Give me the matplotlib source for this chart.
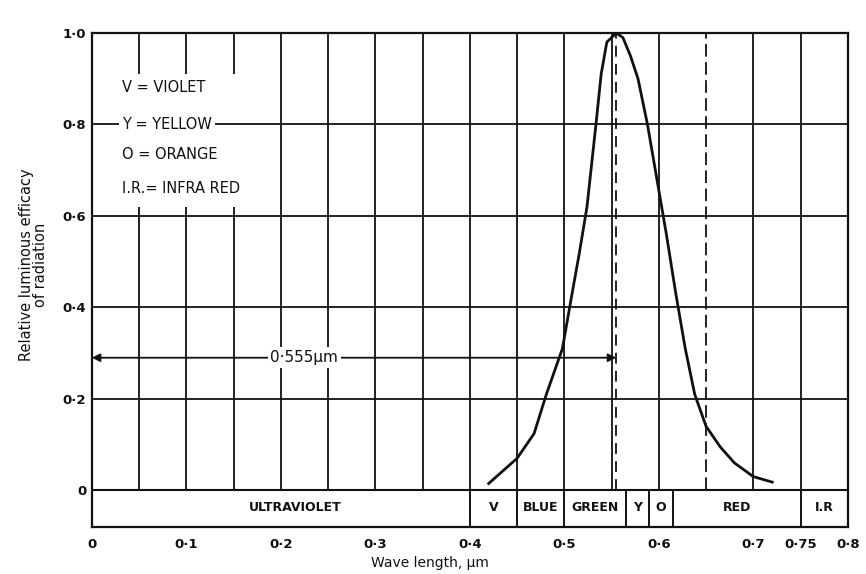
import matplotlib
matplotlib.use("Agg")
import matplotlib.pyplot as plt
from matplotlib.patches import Rectangle

# ---- data ----
wavelength = [0.420, 0.450, 0.468, 0.481, 0.498, 0.507, 0.516, 0.524, 0.534, 0.539,
              0.545, 0.555, 0.562, 0.570, 0.578, 0.588, 0.598, 0.608, 0.618, 0.628,
              0.638, 0.650, 0.665, 0.680, 0.700, 0.720]
efficacy = [0.015, 0.070, 0.124, 0.210, 0.310, 0.416, 0.520, 0.620, 0.810, 0.910,
            0.980, 1.000, 0.990, 0.950, 0.900, 0.800, 0.680, 0.560, 0.430, 0.310,
            0.210, 0.140, 0.095, 0.060, 0.030, 0.018]

peak_wavelength = 0.555
peak_label = "0·555µm"
arrow_level = 0.29

band_edges = [0.0, 0.40, 0.45, 0.50, 0.565, 0.59, 0.615, 0.75, 0.80]
band_names = ["ULTRAVIOLET", "V", "BLUE", "GREEN", "Y", "O", "RED", "I.R"]

x_ticks = [0.0, 0.1, 0.2, 0.3, 0.4, 0.5, 0.6, 0.7, 0.75, 0.8]
x_tick_labels = ["0", "0·1", "0·2", "0·3", "0·4", "0·5", "0·6", "0·7", "0·75", "0·8"]
y_ticks = [0.0, 0.2, 0.4, 0.6, 0.8, 1.0]
y_tick_labels = ["0", "0·2", "0·4", "0·6", "0·8", "1·0"]

legend_lines = ["V = VIOLET", "Y = YELLOW", "O = ORANGE", "I.R.= INFRA RED"]
legend_levels = [0.88, 0.80, 0.735, 0.66]

v_grid = [0.05, 0.10, 0.15, 0.20, 0.25, 0.30, 0.35, 0.40, 0.45, 0.50, 0.55, 0.60,
          0.65, 0.70, 0.75]
h_grid = [0.2, 0.4, 0.6, 0.8]

# ---- figure ----
plt.rcParams["font.family"] = ["DejaVu Sans"]
fig = plt.figure(figsize=(8.66, 5.74), dpi=100)
ax = fig.add_axes([0.106, 0.082, 0.873, 0.8605])
ax.set_xlim(0, 0.8)
ax.set_ylim(-0.08, 1.0)

ink = "#111111"
for s in ax.spines.values():
    s.set_linewidth(1.6)
    s.set_color(ink)

# vertical grid lines (from band top to 1.0)
for x in v_grid:
    ls = (0, (7, 3)) if abs(x - 0.65) < 1e-9 else "-"
    ax.plot([x, x], [0, 1.0], color=ink, lw=1.3, ls=ls, zorder=1)

# white area behind legend text block (interrupts vertical lines)
ax.add_patch(Rectangle((0.01, 0.62), 0.175, 0.29, facecolor="white",
                       edgecolor="none", zorder=2))

# horizontal grid lines
for y in h_grid:
    ax.plot([0, 0.8], [y, y], color=ink, lw=1.3, zorder=3)
ax.plot([0, 0.8], [0, 0], color=ink, lw=1.5, zorder=3)

# colour band dividers and labels
for e in band_edges[1:-1]:
    ax.plot([e, e], [-0.08, 0], color=ink, lw=1.4, zorder=3)
for i, name in enumerate(band_names):
    xc = (band_edges[i] + band_edges[i + 1]) / 2
    if name == "ULTRAVIOLET":
        xc = 0.215
    ax.text(xc, -0.038, name, ha="center", va="center", fontsize=9,
            fontweight="bold", color=ink, zorder=5)

# dashed line at the peak
ax.plot([peak_wavelength, peak_wavelength], [0, 1.0], color=ink, lw=1.3,
        ls=(0, (6, 4)), zorder=3)

# arrow indicating 0.555 µm
ax.annotate("", xy=(0.0, arrow_level), xytext=(peak_wavelength, arrow_level),
            arrowprops=dict(arrowstyle="<|-|>", color=ink, lw=1.3,
                            shrinkA=0, shrinkB=0, mutation_scale=12), zorder=4)
ax.text(0.225, arrow_level, peak_label, ha="center", va="center", fontsize=11,
        color=ink, zorder=5,
        bbox=dict(facecolor="white", edgecolor="none", pad=2))

# luminous efficacy curve
ax.plot(wavelength, efficacy, color=ink, lw=2.0, zorder=6)

# legend text
for txt, yv in zip(legend_lines, legend_levels):
    ax.text(0.032, yv, txt, ha="left", va="center", fontsize=10.5, color=ink,
            zorder=5, bbox=dict(facecolor="white", edgecolor="none", pad=2))

# ticks
ax.set_xticks(x_ticks)
ax.set_xticklabels(x_tick_labels, fontsize=9.5, fontweight="bold")
ax.set_yticks(y_ticks)
ax.set_yticklabels(y_tick_labels, fontsize=9.5, fontweight="bold")
ax.tick_params(length=0, pad=8, colors=ink)
ax.tick_params(axis="y", pad=4)

ax.set_xlabel("Wave length, µm", fontsize=10, color=ink)
ax.xaxis.set_label_coords(0.447, -0.058)
ax.set_ylabel("Relative luminous efficacy\nof radiation", fontsize=10.5,
              color=ink, linespacing=0.9)
ax.yaxis.set_label_coords(-0.058, 0.53)

fig.savefig("out.png", dpi=100, facecolor="white")
